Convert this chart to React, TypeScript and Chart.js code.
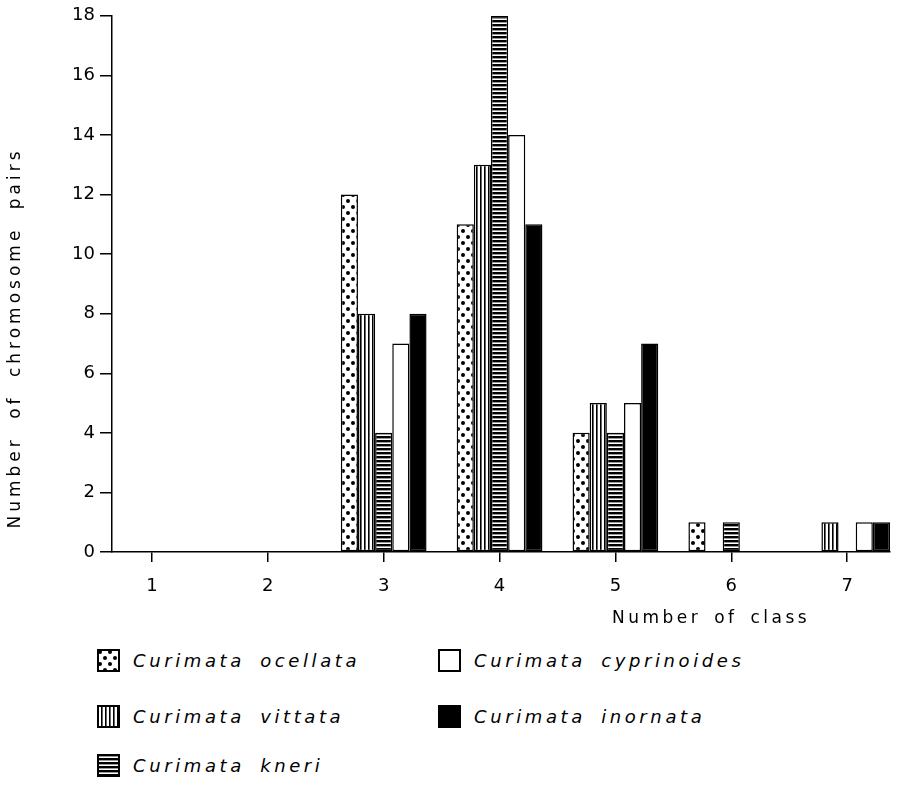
import React, { useEffect, useRef } from "react";
import { Chart, registerables } from "chart.js";

Chart.register(...registerables);

const classes = [1, 2, 3, 4, 5, 6, 7];
const ocellata = [0, 0, 12, 11, 4, 1, 0];
const vittata = [0, 0, 8, 13, 5, 0, 1];
const kneri = [0, 0, 4, 18, 4, 1, 0];
const cyprinoides = [0, 0, 7, 14, 5, 0, 1];
const inornata = [0, 0, 8, 11, 7, 0, 1];
const yTicks = [0, 2, 4, 6, 8, 10, 12, 14, 16, 18];
const seriesNames = [
  "Curimata ocellata",
  "Curimata vittata",
  "Curimata kneri",
  "Curimata cyprinoides",
  "Curimata inornata",
];
const xTitle = "Number of class";
const yTitle = "Number of chromosome pairs";

type Kind = "dots" | "vert" | "horiz" | "white" | "black";
const kinds: Kind[] = ["dots", "vert", "horiz", "white", "black"];

function makePattern(ctx: CanvasRenderingContext2D, kind: Kind): CanvasPattern | string {
  if (kind === "white") return "#ffffff";
  if (kind === "black") return "#000000";
  const c = document.createElement("canvas");
  const g = c.getContext("2d")!;
  if (kind === "dots") {
    c.width = 10;
    c.height = 12;
    g.fillStyle = "#fff";
    g.fillRect(0, 0, 10, 12);
    g.fillStyle = "#000";
    g.beginPath();
    g.arc(3, 3, 2, 0, Math.PI * 2);
    g.fill();
    g.beginPath();
    g.arc(8, 9, 2, 0, Math.PI * 2);
    g.fill();
  } else if (kind === "vert") {
    c.width = 4;
    c.height = 4;
    g.fillStyle = "#fff";
    g.fillRect(0, 0, 4, 4);
    g.fillStyle = "#000";
    g.fillRect(0, 0, 1.6, 4);
  } else {
    c.width = 4;
    c.height = 4;
    g.fillStyle = "#fff";
    g.fillRect(0, 0, 4, 4);
    g.fillStyle = "#000";
    g.fillRect(0, 0, 4, 2.4);
  }
  return ctx.createPattern(c, "repeat")!;
}

const FONT = "'DejaVu Sans', sans-serif";

const titlePlugin = {
  id: "axisTitles",
  afterDraw(chart: any) {
    const ctx: any = chart.ctx;
    ctx.save();
    ctx.fillStyle = "#000";
    ctx.font = `17px ${FONT}`;
    ctx.letterSpacing = "3.5px";
    ctx.wordSpacing = "4px";
    ctx.textAlign = "left";
    ctx.textBaseline = "middle";
    ctx.fillText(xTitle, 612, 619);
    ctx.translate(16, 338);
    ctx.rotate(-Math.PI / 2);
    ctx.textAlign = "center";
    ctx.letterSpacing = "4px";
    ctx.wordSpacing = "8px";
    ctx.fillText(yTitle, 0, 0);
    ctx.restore();
  },
};

export default function App() {
  const canvasRef = useRef<HTMLCanvasElement>(null);
  const swatchRefs = useRef<(HTMLCanvasElement | null)[]>([]);

  useEffect(() => {
    document.body.style.margin = "0";
    const canvas = canvasRef.current!;
    const ctx = canvas.getContext("2d")!;
    const series = [ocellata, vittata, kneri, cyprinoides, inornata];
    const datasets = series.map((vals, i) => ({
      label: seriesNames[i],
      data: classes.map((c, j) => ({ x: c, y: vals[j] })),
      backgroundColor: makePattern(ctx, kinds[i]) as any,
      borderColor: "#000",
      borderWidth: 1.5,
      borderSkipped: false as any,
      barPercentage: 1,
      categoryPercentage: 0.74,
    }));
    const chart = new Chart(canvas, {
      type: "bar",
      data: { datasets },
      plugins: [titlePlugin],
      options: {
        animation: false,
        responsive: false,
        layout: { padding: { top: 15, right: 7, left: 0, bottom: 0 } },
        plugins: { legend: { display: false }, tooltip: { enabled: false } },
        scales: {
          x: {
            type: "linear",
            offset: false,
            min: 0.655,
            max: 7.37,
            afterBuildTicks: (s: any) => {
              s.ticks = classes.map((v) => ({ value: v }));
            },
            afterFit: (s: any) => {
              s.height = 88;
            },
            ticks: { color: "#000", font: { family: FONT, size: 18 }, padding: 14 },
            grid: { offset: false, drawOnChartArea: false, drawTicks: true, tickLength: 10, color: "#000", lineWidth: 1.5 },
            border: { color: "#000", width: 1.5 },
          },
          y: {
            min: 0,
            max: 18,
            afterBuildTicks: (s: any) => {
              s.ticks = yTicks.map((v) => ({ value: v }));
            },
            afterFit: (s: any) => {
              s.width = 112;
            },
            ticks: { color: "#000", font: { family: FONT, size: 18 }, padding: 5 },
            grid: { drawOnChartArea: false, drawTicks: true, tickLength: 12, color: "#000", lineWidth: 1.5 },
            border: { color: "#000", width: 1.5 },
          },
        },
      },
    });

    swatchRefs.current.forEach((sc, i) => {
      if (!sc) return;
      const g = sc.getContext("2d")!;
      g.fillStyle = makePattern(g, kinds[i]) as any;
      g.fillRect(0, 0, sc.width, sc.height);
      g.strokeStyle = "#000";
      g.lineWidth = 2;
      g.strokeRect(1, 1, sc.width - 2, sc.height - 2);
    });

    return () => chart.destroy();
  }, []);

  const legendPos = [
    { sx: 97, y: 661 },
    { sx: 97, y: 717 },
    { sx: 97, y: 766 },
    { sx: 438, y: 661 },
    { sx: 438, y: 717 },
  ];

  return (
    <div style={{ position: "relative", width: 897, height: 785, background: "#fff" }}>
      <canvas ref={canvasRef} width={897} height={640} style={{ display: "block" }} />
      {legendPos.map((p, i) => (
        <div key={i}>
          <canvas
            ref={(el) => {
              swatchRefs.current[i] = el;
            }}
            width={23}
            height={23}
            style={{ position: "absolute", left: p.sx, top: p.y - 12 }}
          />
          <div
            style={{
              position: "absolute",
              left: p.sx + 36,
              top: p.y - 12,
              height: 24,
              lineHeight: "24px",
              fontFamily: FONT,
              fontStyle: "italic",
              fontSize: 18,
              fontWeight: 500,
              letterSpacing: "3.6px",
              wordSpacing: "6px",
              color: "#000",
              whiteSpace: "nowrap",
            }}
          >
            {seriesNames[i]}
          </div>
        </div>
      ))}
    </div>
  );
}
